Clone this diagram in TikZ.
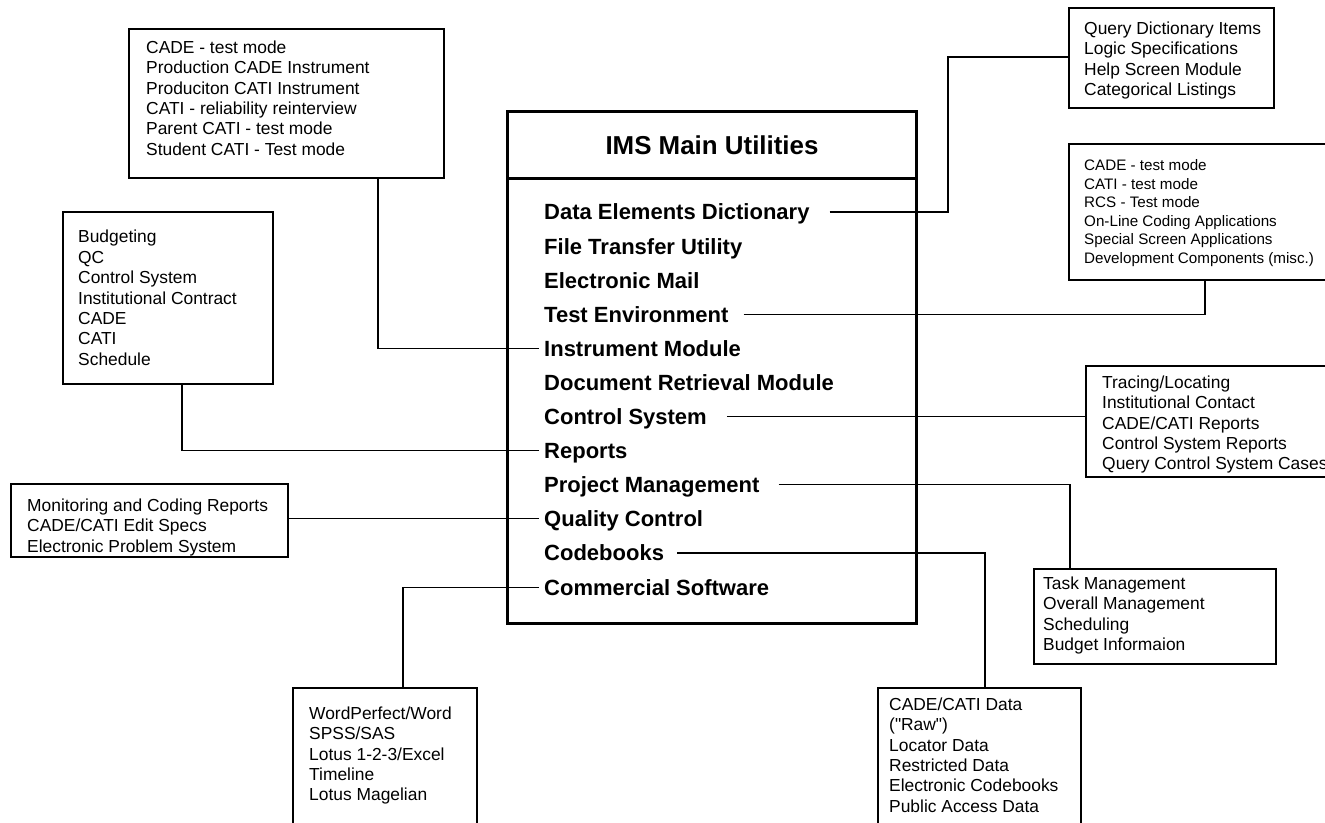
\documentclass[tikz,border=0pt]{standalone}
\usepackage{fontspec}
\setmainfont{Liberation Sans}[Ligatures=TeXOff]
\newcommand\fbody{\fontsize{17.4}{20.4}\selectfont}
\newcommand\fsmall{\fontsize{15.2}{18.5}\selectfont}
\newcommand\fitem{\fontsize{22}{26}\selectfont\bfseries}
\newcommand\ftitle{\fontsize{25.9}{30}\selectfont\bfseries}
\tikzset{
  box/.style={draw=black, line width=2pt, rectangle, inner sep=0pt, anchor=north west},
  mainbox/.style={draw=black, line width=3pt, rectangle, inner sep=0pt, anchor=north west},
  txt/.style={inner sep=0pt, anchor=north west, align=left, font=\fbody},
  txtsmall/.style={inner sep=0pt, anchor=north west, align=left, font=\fsmall},
  item/.style={inner sep=0pt, text height=15.8pt, text depth=0pt, anchor=west, font=\fitem},
  conn/.style={draw=black, line width=1.1pt},
}
\begin{document}
\begin{tikzpicture}[x=1pt,y=-1pt]
\useasboundingbox (0,0) rectangle (1325,822);
\clip (0,0) rectangle (1325,822);
\fill[white] (0,0) rectangle (1325,822);

% main box
\node[mainbox, minimum width=409, minimum height=67] (head) at (506,110) {\ftitle IMS Main Utilities};
\node[mainbox, minimum width=409, minimum height=445] (body) at (506,177) {};

% items
\node[item] (iDict)  at (544,212.0) {Data Elements Dictionary};
\node[item] (iFile)  at (544,246.1) {File Transfer Utility};
\node[item] (iMail)  at (544,280.2) {Electronic Mail};
\node[item] (iTest)  at (544,314.3) {Test Environment};
\node[item] (iInstr) at (544,348.4) {Instrument Module};
\node[item] (iDoc)   at (544,382.5) {Document Retrieval Module};
\node[item] (iCS)    at (544,416.6) {Control System};
\node[item] (iRep)   at (544,450.7) {Reports};
\node[item] (iPM)    at (544,484.8) {Project Management};
\node[item] (iQC)    at (544,518.9) {Quality Control};
\node[item] (iCode)  at (544,553.0) {Codebooks};
\node[item] (iComm)  at (544,587.1) {Commercial Software};

% side boxes
\node[box, minimum width=315, minimum height=149] (bInstr) at (128,28) {};
\node[txt] (tInstr) at (146,40.5) {CADE - test mode\\Production CADE Instrument\\Produciton CATI Instrument\\CATI - reliability reinterview\\Parent CATI - test mode\\Student CATI - Test mode};

\node[box, minimum width=210, minimum height=172] (bRep) at (62,211) {};
\node[txt] (tRep) at (78,230) {Budgeting\\QC\\Control System\\Institutional Contract\\CADE\\CATI\\Schedule};

\node[box, minimum width=277, minimum height=73] (bQC) at (10,483) {};
\node[txt] (tQC) at (27,498.5) {Monitoring and Coding Reports\\CADE/CATI Edit Specs\\Electronic Problem System};

\node[box, minimum width=184, minimum height=160] (bComm) at (292,687) {};
\node[txt] (tComm) at (309,706.5) {WordPerfect/Word\\SPSS/SAS\\Lotus 1-2-3/Excel\\Timeline\\Lotus Magelian};

\node[box, minimum width=203, minimum height=160] (bCode) at (877,687) {};
\node[txt] (tCode) at (889,697.5) {CADE/CATI Data\\("Raw")\\Locator Data\\Restricted Data\\Electronic Codebooks\\Public Access Data};

\node[box, minimum width=242, minimum height=95] (bPM) at (1033,568) {};
\node[txt] (tPM) at (1043,576.5) {Task Management\\Overall Management\\Scheduling\\Budget Informaion};

\node[box, minimum width=260, minimum height=111] (bCS) at (1085,365) {};
\node[txt] (tCS) at (1102,375.5) {Tracing/Locating\\Institutional Contact\\CADE/CATI Reports\\Control System Reports\\Query Control System Cases};

\node[box, minimum width=277, minimum height=136] (bTest) at (1068,143) {};
\node[txtsmall] (tTest) at (1084,159.3) {CADE - test mode\\CATI - test mode\\RCS - Test mode\\On-Line Coding Applications\\Special Screen Applications\\Development Components (misc.)};

\node[box, minimum width=205, minimum height=100] (bDict) at (1068,7) {};
\node[txt] (tDict) at (1084,21.5) {Query Dictionary Items\\Logic Specifications\\Help Screen Module\\Categorical Listings};

% connectors
\coordinate (kDict) at (948,57);
\draw[conn, shorten <=20pt] (iDict.east) -| (kDict) -- (kDict -| bDict.west);
\draw[conn, shorten <=15pt] (iTest.east) -| ([xshift=137pt]bTest.south west);
\draw[conn, shorten <=20pt] (iCS.east) -- (iCS.east -| bCS.west);
\draw[conn, shorten <=19pt] (iPM.east) -| ([xshift=37pt]bPM.north west);
\draw[conn, shorten <=13pt] (iCode.east) -| ([xshift=108pt]bCode.north west);

\draw[conn, shorten <=5pt] (iInstr.west) -| ([xshift=250pt]bInstr.south west);
\draw[conn, shorten <=5pt] (iRep.west) -| ([xshift=120pt]bRep.south west);
\draw[conn, shorten <=5pt] (iQC.west) -- (iQC.west -| bQC.east);
\draw[conn, shorten <=5pt] (iComm.west) -| ([xshift=111pt]bComm.north west);
\end{tikzpicture}
\end{document}
